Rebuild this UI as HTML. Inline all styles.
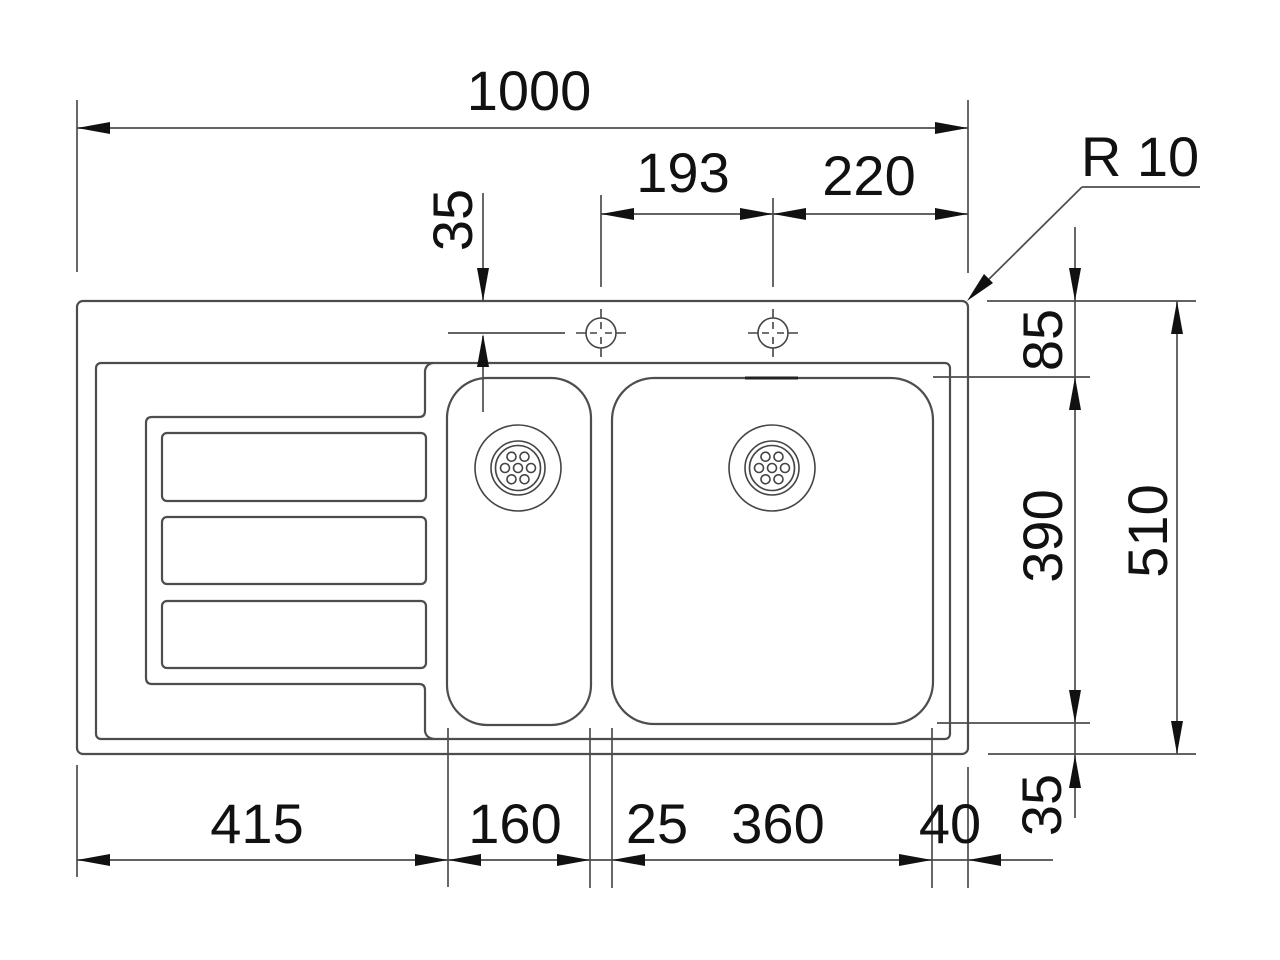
<!DOCTYPE html>
<html>
<head>
<meta charset="utf-8">
<style>
  html, body { margin:0; padding:0; background:#ffffff; }
  svg { display:block; }
  text { font-family: "Liberation Sans", Arial, sans-serif; font-size:56px; fill:#111; }
</style>
</head>
<body>
<svg width="1280" height="960" viewBox="0 0 1280 960" xmlns="http://www.w3.org/2000/svg">
  <rect x="0" y="0" width="1280" height="960" fill="#fff"/>

  <!-- ===== SINK BODY ===== -->
  <g fill="none" stroke="#4d4d4d" stroke-width="2.2">
    <!-- outer -->
    <rect x="77" y="301" width="891" height="453" rx="6"/>
    <!-- rim -->
    <rect x="96" y="363" width="854" height="376" rx="5"/>
    <!-- drainboard contour -->
    <path d="M433,363 Q426,364 425,371 L425,411 Q425,417 419,417 L152,417 Q146,417 146,423 L146,678 Q146,684 152,684 L419,684 Q425,684 425,690 L425,731 Q426,738 434,739"/>
    <!-- grooves -->
    <rect x="162" y="433" width="264" height="68" rx="5"/>
    <rect x="162" y="517" width="264" height="67" rx="5"/>
    <rect x="162" y="601" width="264" height="67" rx="5"/>
    <!-- small bowl -->
    <rect x="447" y="378" width="144" height="347" rx="40"/>
    <!-- big bowl -->
    <rect x="612" y="378" width="321" height="346" rx="42"/>
  </g>
  <!-- overflow mark -->
  <line x1="745" y1="378" x2="798" y2="378" stroke="#222" stroke-width="3"/>

  <!-- drains -->
  <g fill="none" stroke="#444" stroke-width="1.6">
    <g transform="translate(518,468)">
      <circle r="43"/>
      <circle r="27"/>
      <circle r="22.5"/>
      <circle r="4.5"/>
      <circle cx="13" cy="0" r="4.5"/>
      <circle cx="-13" cy="0" r="4.5"/>
      <circle cx="6.5" cy="11.3" r="4.5"/>
      <circle cx="-6.5" cy="11.3" r="4.5"/>
      <circle cx="6.5" cy="-11.3" r="4.5"/>
      <circle cx="-6.5" cy="-11.3" r="4.5"/>
    </g>
    <g transform="translate(772,468)">
      <circle r="43"/>
      <circle r="27"/>
      <circle r="22.5"/>
      <circle r="4.5"/>
      <circle cx="13" cy="0" r="4.5"/>
      <circle cx="-13" cy="0" r="4.5"/>
      <circle cx="6.5" cy="11.3" r="4.5"/>
      <circle cx="-6.5" cy="11.3" r="4.5"/>
      <circle cx="6.5" cy="-11.3" r="4.5"/>
      <circle cx="-6.5" cy="-11.3" r="4.5"/>
    </g>
  </g>

  <!-- tap holes -->
  <g fill="none" stroke="#444" stroke-width="1.6">
    <g transform="translate(601,333)">
      <circle r="15"/>
      <path d="M-25,0 H-15 M15,0 H25 M0,-24 V-15 M0,15 V24 M-11,0 H-4 M4,0 H11 M0,-11 V-4 M0,4 V11"/>
    </g>
    <g transform="translate(773,333)">
      <circle r="15"/>
      <path d="M-25,0 H-15 M15,0 H25 M0,-24 V-15 M0,15 V24 M-11,0 H-4 M4,0 H11 M0,-11 V-4 M0,4 V11"/>
    </g>
  </g>

  <!-- ===== DIMENSION LINES ===== -->
  <g fill="none" stroke="#4d4d4d" stroke-width="1.7">
    <!-- 1000 -->
    <line x1="77" y1="100" x2="77" y2="272"/>
    <line x1="968" y1="100" x2="968" y2="273"/>
    <line x1="77" y1="128" x2="968" y2="128"/>
    <!-- 193 / 220 -->
    <line x1="601" y1="195" x2="601" y2="287"/>
    <line x1="773" y1="198" x2="773" y2="287"/>
    <line x1="601" y1="214" x2="968" y2="214"/>
    <!-- 35 top -->
    <line x1="483" y1="193" x2="483" y2="300"/>
    <line x1="483" y1="336" x2="483" y2="412"/>
    <line x1="448" y1="333" x2="565" y2="333"/>
    <!-- R10 leader -->
    <line x1="1200" y1="187" x2="1082" y2="187"/>
    <line x1="1082" y1="187" x2="975" y2="293"/>
    <!-- right side extension lines -->
    <line x1="987" y1="301" x2="1196" y2="301"/>
    <line x1="933" y1="377" x2="1090" y2="377"/>
    <line x1="937" y1="723" x2="1090" y2="723"/>
    <line x1="988" y1="754" x2="1196" y2="754"/>
    <!-- 85/390/35 vertical -->
    <line x1="1075" y1="227" x2="1075" y2="818"/>
    <!-- 510 vertical -->
    <line x1="1177" y1="301" x2="1177" y2="754"/>
    <!-- bottom extension lines -->
    <line x1="77" y1="765" x2="77" y2="877"/>
    <line x1="448" y1="728" x2="448" y2="887"/>
    <line x1="590" y1="728" x2="590" y2="888"/>
    <line x1="612" y1="728" x2="612" y2="888"/>
    <line x1="932" y1="728" x2="932" y2="888"/>
    <line x1="968" y1="767" x2="968" y2="888"/>
    <!-- bottom dim line -->
    <line x1="77" y1="860" x2="1053" y2="860"/>
  </g>

  <!-- ===== ARROWHEADS ===== -->
  <g fill="#111" stroke="none">
    <!-- 1000 -->
    <polygon points="77,128 110,122 110,134"/>
    <polygon points="968,128 935,122 935,134"/>
    <!-- 193 -->
    <polygon points="601,214 634,208 634,220"/>
    <polygon points="773,214 740,208 740,220"/>
    <!-- 220 -->
    <polygon points="773,214 806,208 806,220"/>
    <polygon points="968,214 935,208 935,220"/>
    <!-- 35 top -->
    <polygon points="483,301 477,268 489,268"/>
    <polygon points="483,334 477,367 489,367"/>
    <!-- R10 arrow -->
    <polygon points="967,301 984,274 993,283"/>
    <!-- 85 -->
    <polygon points="1075,301 1069,268 1081,268"/>
    <polygon points="1075,377 1069,410 1081,410"/>
    <!-- 390 bottom / 35 -->
    <polygon points="1075,723 1069,690 1081,690"/>
    <polygon points="1075,755 1069,788 1081,788"/>
    <!-- 510 -->
    <polygon points="1177,301 1171,334 1183,334"/>
    <polygon points="1177,754 1171,721 1183,721"/>
    <!-- bottom -->
    <polygon points="77,860 110,854 110,866"/>
    <polygon points="448,860 415,854 415,866"/>
    <polygon points="448,860 481,854 481,866"/>
    <polygon points="590,860 557,854 557,866"/>
    <polygon points="612,860 645,854 645,866"/>
    <polygon points="932,860 899,854 899,866"/>
    <polygon points="968,860 1001,854 1001,866"/>
  </g>

  <!-- ===== LABELS ===== -->
  <g text-anchor="middle">
    <text x="529" y="110">1000</text>
    <text x="683" y="192">193</text>
    <text x="869" y="195">220</text>
    <text x="1140" y="176">R 10</text>
    <text x="257" y="843">415</text>
    <text x="515" y="843">160</text>
    <text x="657" y="843">25</text>
    <text x="778" y="843">360</text>
    <text x="950" y="843">40</text>
    <text transform="translate(472,220) rotate(-90)">35</text>
    <text transform="translate(1062,340) rotate(-90)">85</text>
    <text transform="translate(1062,536) rotate(-90)">390</text>
    <text transform="translate(1167,531) rotate(-90)">510</text>
    <text transform="translate(1061,805) rotate(-90)">35</text>
  </g>
</svg>
</body>
</html>
